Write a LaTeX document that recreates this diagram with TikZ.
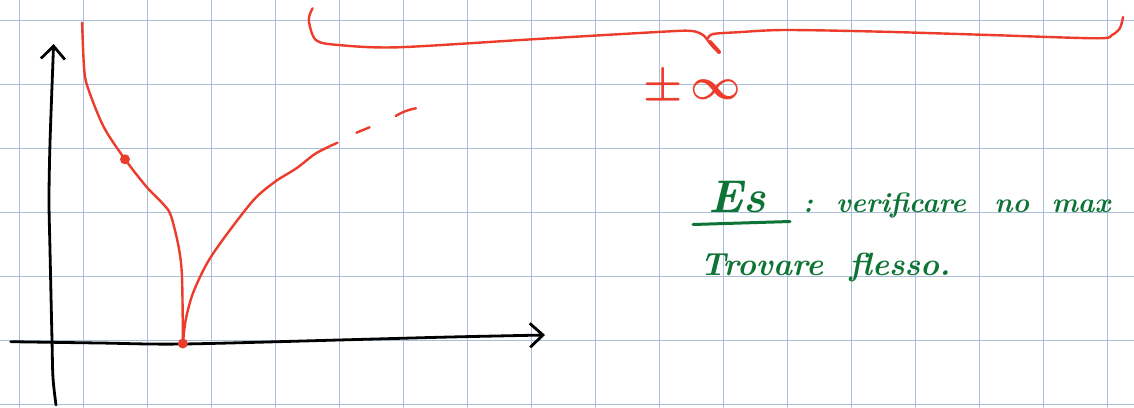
\documentclass[tikz,border=0pt]{standalone}
\usepackage{amsmath}
\usepackage{xcolor}
\usepackage{tikz}
\usetikzlibrary{arrows.meta, positioning}
\definecolor{gridblue}{RGB}{170,189,219}
\definecolor{penred}{RGB}{236,60,44}
\definecolor{pengreen}{RGB}{14,116,54}

\begin{document}
\begin{tikzpicture}[x=1pt, y=-1pt, line cap=round, line join=round,
        gridline/.style={gridblue, line width=1.3pt},
        axis/.style={black, line width=2.8pt, -{Straight Barb[length=13pt, width=24pt]}},
        curve/.style={penred, line width=2.4pt},
        dot/.style={circle, fill=penred, inner sep=0pt, minimum size=10pt},
        note/.style={pengreen, font=\fontsize{32}{38}\selectfont\bfseries\itshape, anchor=base west, inner sep=0pt},
        notesmall/.style={note, font=\fontsize{28}{34}\selectfont\bfseries\itshape}]

        \useasboundingbox (0,0) rectangle (1134,407);
        \clip (0,0) rectangle (1134,407);
        \fill[white] (0,0) rectangle (1134,407);

        \foreach \gx in {0,...,17}
            \draw[gridline] ({19.6+64*\gx},0) -- ++(0,407);
        \foreach \gy in {0,...,6}
            \draw[gridline] (0,{20.5+64*\gy}) -- ++(1134,0);

        \draw[axis] plot[smooth] coordinates {(56,405) (53,378) (52,340) (50,250) (49,200) (50,143) (53,60) (53.6,44)};
        \draw[axis] plot[smooth] coordinates {(10.7,341.7) (100,343) (183,344) (357,339.5) (450,337) (545,335)};

        \draw[curve] plot[smooth] coordinates {(82.1,22.7) (84,66.7) (87.5,86.7) (103.6,126.7) (125,159.3) (146.4,186.7) (162.5,203.3) (170.7,215) (178.6,246.7) (182,276.7) (182.9,343.3)};
        \draw[curve] plot[smooth] coordinates {(183,343) (185.7,320) (192.9,293.3) (207,263.3) (225,236.7) (253.6,200) (275,181.7) (296.4,168.3) (316,153.3) (337.5,142.7)};
        \draw[curve] (356.4,132.7) -- (369.6,127.3);
        \draw[curve] (395.7,116) to[bend left=10] (416,108.3);

        \node (p1) [dot] at (125,159.3) {};
        \node (p0) [dot] at (182.8,343.5) {};

        \draw[curve] plot[smooth] coordinates {(312.6,8.3) (308.8,20) (315.8,40) (338.4,45) (397.6,47.3) (532,39.3) (666.7,31.5) (692,31) (703,35) (709,42) (714,48) (719,52)};
        \draw[curve] plot[smooth] coordinates {(708,38) (713,34) (736.7,32.3) (785,30) (882,31.7) (989.7,35) (1097,38.3) (1112,35) (1120,28) (1123,17)};
        \draw[penred, line width=4pt] (710,42) -- (719,52);

        \node (lim) [penred, scale=4.4, inner sep=0pt] at (692,88) {$\boldsymbol{\pm}\,\boldsymbol{\infty}$};

        \node (es) [note, font=\fontsize{46}{50}\selectfont\bfseries\itshape] at (708,212) {Es};
        \draw[pengreen, line width=3pt] (693,224.5) -- (790,221.5);
        \node (colon) [notesmall] at (803,212) {:};
        \node (verif) [notesmall] at (836,212) {verificare};
        \node (no) [notesmall, base right=28pt of verif] {no};
        \node (max) [notesmall, base right=22pt of no] {max};

        \node (trov) [note] at (700,275) {Trovare};
        \node (flesso) [note, base right=26pt of trov] {flesso.};
\end{tikzpicture}
\end{document}
